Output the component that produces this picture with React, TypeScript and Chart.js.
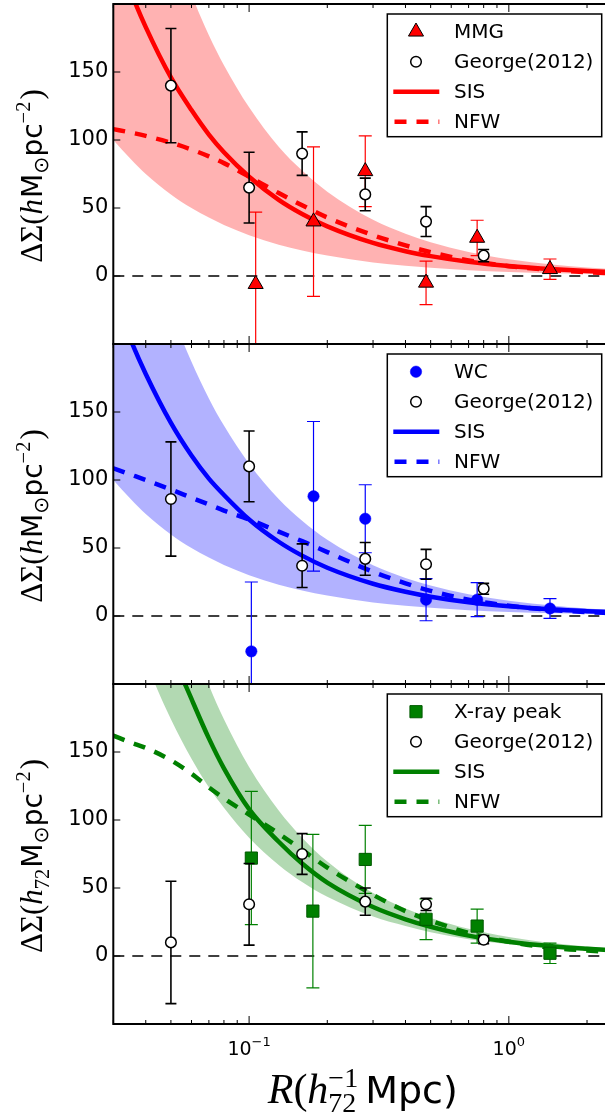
import React, { useEffect, useRef } from 'react';
import { Chart, registerables } from 'chart.js';

Chart.register(...registerables);

// ---------------- data ----------------
const X_MIN = 0.03;
const X_MAX = 2.5;
const Y_MIN = -50;
const Y_MAX = 200;
const Y_TICKS = [0, 50, 100, 150];
const X_MAJOR_TICKS = [0.1, 1];
const X_MAJOR_BASE = ['10', '10'];
const X_MAJOR_EXP = ['\u22121', '0'];
const X_MINOR_TICKS = [0.03, 0.04, 0.05, 0.06, 0.07, 0.08, 0.09, 0.2, 0.3, 0.4, 0.5, 0.6, 0.7, 0.8, 0.9, 2];

// model curves sampled along R
const R_MODEL = [0.03, 0.035, 0.04, 0.05, 0.06, 0.07, 0.08, 0.1, 0.13, 0.16, 0.2, 0.3, 0.4, 0.5, 0.7, 1.0, 1.5, 2.0, 2.5];

const SIS_1 = [243, 209, 183, 146, 122, 104, 91, 73, 56, 45.6, 36.5, 24.3, 18.2, 14.6, 10.4, 7.3, 4.9, 3.65, 2.9];
const NFW_1 = [108, 105.5, 103, 98, 93, 88, 83, 73, 61, 52, 43, 30, 22.5, 17.5, 11.5, 7.2, 4.2, 2.8, 2.0];
const BAND_1_HI = [413, 354, 310, 248, 207, 177, 155, 124, 95, 77.5, 62, 41.3, 31, 24.8, 17.7, 12.4, 8.3, 6.2, 5.0];
const BAND_1_LO = [100, 86, 75, 60, 50, 43, 37.5, 30, 23, 18.8, 15, 10, 7.5, 6, 4.3, 3, 2, 1.5, 1.2];

const SIS_2 = [237, 203, 178, 142, 118, 101, 89, 71, 54.6, 44.4, 35.5, 23.7, 17.8, 14.2, 10.1, 7.1, 4.7, 3.55, 2.85];
const NFW_2 = [108.6, 104, 100, 93, 87, 82, 77.5, 71, 62, 55, 47, 32.5, 24, 18.5, 12, 7.5, 4.3, 2.9, 2.1];
const BAND_2_HI = [373, 320, 280, 224, 187, 160, 140, 112, 86, 70, 56, 37.3, 28, 22.4, 16, 11.2, 7.5, 5.6, 4.5];
const BAND_2_LO = [100, 86, 75, 60, 50, 43, 37.5, 30, 23, 18.8, 15, 10, 7.5, 6, 4.3, 3, 2, 1.5, 1.2];

const SIS_3 = [370, 318, 280, 225, 189, 160, 138, 108, 84, 68, 54, 36, 27, 21.5, 15, 10.5, 7, 5.3, 4.2];
const NFW_3 = [162, 157, 153, 144, 134, 124, 116, 104, 90, 78, 65, 45, 33, 26, 17, 10.5, 5.8, 4.0, 3.0];
const BAND_3_HI = [463, 397, 348, 278, 232, 199, 174, 139, 107, 87, 69.5, 46.3, 35, 28, 20, 14, 9.3, 7, 5.6];
const BAND_3_LO = [290, 249, 217, 174, 145, 124, 109, 87, 67, 54.4, 43.5, 29, 22, 17.4, 12.4, 8.7, 5.8, 4.35, 3.5];

// George (2012) points
const R_GEORGE = [0.05, 0.1, 0.16, 0.28, 0.48, 0.8];
const GEORGE_1 = [140, 65, 90, 60, 40, 15];
const GEORGE_1_ERR = [42, 26, 16, 12, 11, 4.5];
const GEORGE_2 = [86, 110, 37, 42, 38, 20];
const GEORGE_2_ERR = [42, 26, 16, 12, 11, 4];
const GEORGE_3 = [10, 38, 75, 40, 38, 12];
const GEORGE_3_ERR = [45, 30, 15, 10, 4.5, 3];

// cluster centre samples
const R_MMG = [0.106, 0.177, 0.28, 0.48, 0.755, 1.44];
const MMG = [-6, 40, 77, -5, 28, 5];
const MMG_ERR = [53, 55, 26, 16, 13, 7.5];

const R_WC = [0.102, 0.177, 0.28, 0.48, 0.755, 1.44];
const WC = [-26, 88, 71.5, 12, 12, 5.5];
const WC_ERR = [51, 55, 25, 15.5, 12.5, 7.3];

const R_XRAY = [0.102, 0.176, 0.28, 0.48, 0.755, 1.44];
const XRAY = [72, 33, 71, 27, 22, 2];
const XRAY_ERR = [49, 56.5, 25, 15, 12.5, 7.5];

const LEGEND_1 = ['MMG', 'George(2012)', 'SIS', 'NFW'];
const LEGEND_2 = ['WC', 'George(2012)', 'SIS', 'NFW'];
const LEGEND_3 = ['X-ray peak', 'George(2012)', 'SIS', 'NFW'];

// ---------------- layout / style ----------------
const CANVAS_W = 630;
const PLOT_LEFT = 113.3;
const PLOT_RIGHT = 612.2;
const PANEL_TOPS = [4, 344, 684];
const PANEL_H = 340;
const PAD = 6;
const PAGE_H = 1115;

const SANS = '"DejaVu Sans"';
const SERIF = '"Liberation Serif"';

type Panel = {
  color: string;
  band: string;
  marker: 'triangle' | 'circle' | 'rect';
  markerRadius: number;
  markerBorder: string;
  markerBorderWidth: number;
  rSample: number[];
  ySample: number[];
  eSample: number[];
  yGeorge: number[];
  eGeorge: number[];
  sis: number[];
  nfw: number[];
  hi: number[];
  lo: number[];
  legend: string[];
  h72: boolean;
  bottom: boolean;
};

const PANELS: Panel[] = [
  {
    color: '#ff0000', band: 'rgba(255,0,0,0.3)', marker: 'triangle', markerRadius: 8.7,
    markerBorder: '#000', markerBorderWidth: 1,
    rSample: R_MMG, ySample: MMG, eSample: MMG_ERR,
    yGeorge: GEORGE_1, eGeorge: GEORGE_1_ERR,
    sis: SIS_1, nfw: NFW_1, hi: BAND_1_HI, lo: BAND_1_LO,
    legend: LEGEND_1, h72: false, bottom: false,
  },
  {
    color: '#0000ff', band: 'rgba(0,0,255,0.3)', marker: 'circle', markerRadius: 5.7,
    markerBorder: '#0000ff', markerBorderWidth: 0.5,
    rSample: R_WC, ySample: WC, eSample: WC_ERR,
    yGeorge: GEORGE_2, eGeorge: GEORGE_2_ERR,
    sis: SIS_2, nfw: NFW_2, hi: BAND_2_HI, lo: BAND_2_LO,
    legend: LEGEND_2, h72: false, bottom: false,
  },
  {
    color: '#008000', band: 'rgba(0,128,0,0.3)', marker: 'rect', markerRadius: 8.6,
    markerBorder: '#005a00', markerBorderWidth: 1,
    rSample: R_XRAY, ySample: XRAY, eSample: XRAY_ERR,
    yGeorge: GEORGE_3, eGeorge: GEORGE_3_ERR,
    sis: SIS_3, nfw: NFW_3, hi: BAND_3_HI, lo: BAND_3_LO,
    legend: LEGEND_3, h72: true, bottom: true,
  },
];

type Seg = { t: string; f: string; dy?: number; noAdv?: boolean; dx?: number };

function drawRich(ctx: CanvasRenderingContext2D, segs: Seg[], x: number, y: number) {
  const widths = segs.map((s) => {
    ctx.font = s.f;
    return ctx.measureText(s.t).width;
  });
  let total = 0;
  segs.forEach((s, i) => {
    total += (s.dx || 0) + (s.noAdv ? 0 : widths[i]);
  });
  let cx = x - total / 2;
  ctx.textAlign = 'left';
  ctx.textBaseline = 'alphabetic';
  segs.forEach((s, i) => {
    cx += s.dx || 0;
    ctx.font = s.f;
    ctx.fillText(s.t, cx, y + (s.dy || 0));
    if (!s.noAdv) cx += widths[i];
  });
}

function drawMarker(
  ctx: CanvasRenderingContext2D, style: string, x: number, y: number, r: number,
  fill: string, stroke: string, lw: number,
) {
  ctx.beginPath();
  if (style === 'triangle') {
    const a = (2 * Math.PI) / 3;
    ctx.moveTo(x, y - r);
    ctx.lineTo(x + r * Math.sin(a), y - r * Math.cos(a));
    ctx.lineTo(x - r * Math.sin(a), y - r * Math.cos(a));
    ctx.closePath();
  } else if (style === 'rect') {
    const s = r * Math.SQRT1_2;
    ctx.rect(x - s, y - s, 2 * s, 2 * s);
  } else {
    ctx.arc(x, y, r, 0, Math.PI * 2);
  }
  ctx.fillStyle = fill;
  ctx.fill();
  if (lw > 0) {
    ctx.lineWidth = lw;
    ctx.strokeStyle = stroke;
    ctx.stroke();
  }
}

function makePlugin(p: Panel, idx: number) {
  return {
    id: 'decor' + idx,
    beforeDatasetDraw(chart: any, args: any) {
      const ds = chart.data.datasets[args.index];
      if (!ds.errors) return;
      const xs = chart.scales.x;
      const ys = chart.scales.y;
      const ca = chart.chartArea;
      const ctx: CanvasRenderingContext2D = chart.ctx;
      ctx.save();
      ctx.beginPath();
      ctx.rect(ca.left, ca.top, ca.right - ca.left, ca.bottom - ca.top);
      ctx.clip();
      ctx.strokeStyle = ds.errColor;
      ctx.lineWidth = ds.errWidth;
      ds.data.forEach((pt: any, i: number) => {
        const px = xs.getPixelForValue(pt.x);
        const yTop = ys.getPixelForValue(pt.y + ds.errors[i]);
        const yBot = ys.getPixelForValue(pt.y - ds.errors[i]);
        const c = ds.errCap;
        ctx.beginPath();
        ctx.moveTo(px, yBot);
        ctx.lineTo(px, yTop);
        ctx.moveTo(px - c, yTop);
        ctx.lineTo(px + c, yTop);
        ctx.moveTo(px - c, yBot);
        ctx.lineTo(px + c, yBot);
        ctx.stroke();
      });
      ctx.restore();
    },
    afterDatasetsDraw(chart: any) {
      const ctx: CanvasRenderingContext2D = chart.ctx;
      const ca = chart.chartArea;
      const xs = chart.scales.x;
      const ys = chart.scales.y;
      ctx.save();
      // inward ticks
      ctx.strokeStyle = '#000';
      ctx.lineWidth = 1;
      ctx.beginPath();
      X_MAJOR_TICKS.forEach((v) => {
        const px = xs.getPixelForValue(v);
        ctx.moveTo(px, ca.top); ctx.lineTo(px, ca.top + 8);
        ctx.moveTo(px, ca.bottom); ctx.lineTo(px, ca.bottom - 8);
      });
      X_MINOR_TICKS.forEach((v) => {
        const px = xs.getPixelForValue(v);
        ctx.moveTo(px, ca.top); ctx.lineTo(px, ca.top + 4);
        ctx.moveTo(px, ca.bottom); ctx.lineTo(px, ca.bottom - 4);
      });
      Y_TICKS.forEach((v) => {
        const py = ys.getPixelForValue(v);
        ctx.moveTo(ca.left, py); ctx.lineTo(ca.left + 7, py);
        ctx.moveTo(ca.right, py); ctx.lineTo(ca.right - 7, py);
      });
      ctx.stroke();
      // frame
      ctx.lineWidth = 2;
      ctx.strokeRect(ca.left, ca.top, ca.right - ca.left, ca.bottom - ca.top);

      // legend
      const lx0 = 387.3, lx1 = 601.7;
      const ly0 = ca.top + 10, ly1 = ca.top + 132.7;
      ctx.fillStyle = '#fff';
      ctx.fillRect(lx0, ly0, lx1 - lx0, ly1 - ly0);
      ctx.lineWidth = 1.5;
      ctx.strokeStyle = '#000';
      ctx.strokeRect(lx0, ly0, lx1 - lx0, ly1 - ly0);
      const rows = [27.7, 57.7, 87.7, 117.7].map((d) => ca.top + d);
      drawMarker(ctx, p.marker, 416, rows[0], p.markerRadius, p.color, p.markerBorder, p.markerBorderWidth);
      drawMarker(ctx, 'circle', 416, rows[1], 5.3, '#fff', '#000', 1.5);
      ctx.lineCap = 'butt';
      ctx.strokeStyle = p.color;
      ctx.lineWidth = 4.5;
      ctx.beginPath();
      ctx.moveTo(393.3, rows[2]); ctx.lineTo(439.3, rows[2]);
      ctx.stroke();
      ctx.setLineDash([12, 10]);
      ctx.beginPath();
      ctx.moveTo(394.5, rows[3]); ctx.lineTo(439.3, rows[3]);
      ctx.stroke();
      ctx.setLineDash([]);
      ctx.fillStyle = '#000';
      ctx.font = `20px ${SANS}`;
      ctx.textAlign = 'left';
      ctx.textBaseline = 'middle';
      p.legend.forEach((t, i) => ctx.fillText(t, 454, rows[i] + 1));

      // y title
      const big = 31, sans = 28, small = 20.5;
      const segs: Seg[] = [
        { t: '\u0394\u03A3(', f: `${big}px ${SERIF}` },
        { t: 'h', f: `italic ${big}px ${SERIF}` },
      ];
      if (p.h72) segs.push({ t: '72', f: `${small}px ${SERIF}`, dy: 7 });
      segs.push(
        { t: 'M', f: `${sans}px ${SANS}`, dx: 1 },
        { t: '\u2299', f: `${small}px ${SANS}`, dy: 6 },
        { t: 'pc', f: `${sans}px ${SANS}` },
        { t: '\u22122', f: `${small}px ${SERIF}`, dy: -12 },
        { t: ')', f: `${big}px ${SERIF}`, dx: 2 },
      );
      ctx.save();
      ctx.translate(41.7, (ca.top + ca.bottom) / 2 + 2);
      ctx.rotate(-Math.PI / 2);
      ctx.fillStyle = '#000';
      drawRich(ctx, segs, 0, 0);
      ctx.restore();

      if (p.bottom) {
        // x tick labels
        X_MAJOR_TICKS.forEach((v, i) => {
          const px = xs.getPixelForValue(v);
          drawRich(ctx, [
            { t: X_MAJOR_BASE[i], f: `19px ${SANS}` },
            { t: X_MAJOR_EXP[i], f: `13px ${SANS}`, dy: -9 },
          ], px, ca.bottom + 31);
        });
        // x title
        const xb = 42, xs2 = 38, xsm = 28;
        drawRich(ctx, [
          { t: 'R', f: `italic ${xb}px ${SERIF}` },
          { t: '(', f: `${xb}px ${SERIF}` },
          { t: 'h', f: `italic ${xb}px ${SERIF}` },
          { t: '72', f: `${xsm}px ${SERIF}`, dy: 9, noAdv: true },
          { t: '\u22121', f: `${xsm}px ${SERIF}`, dy: -16 },
          { t: 'Mpc)', f: `${xs2}px ${SANS}`, dx: 7 },
        ], (ca.left + ca.right) / 2, ca.bottom + 79);
      }
      ctx.restore();
    },
  };
}

function buildConfig(p: Panel, idx: number, canvasH: number): any {
  const pts = (xs: number[], ys: number[]) => xs.map((x, i) => ({ x, y: ys[i] }));
  const curveBase = {
    pointRadius: 0,
    cubicInterpolationMode: 'monotone',
    clip: 0,
    fill: false,
  };
  return {
    type: 'line',
    data: {
      datasets: [
        {
          label: 'George(2012)',
          data: pts(R_GEORGE, p.yGeorge),
          showLine: false,
          pointStyle: 'circle',
          pointRadius: 5.3,
          pointBackgroundColor: '#fff',
          pointBorderColor: '#000',
          pointBorderWidth: 1.5,
          errors: p.eGeorge,
          errColor: '#000',
          errWidth: 1.6,
          errCap: 5.5,
          clip: 0,
        },
        {
          label: p.legend[0],
          data: pts(p.rSample, p.ySample),
          showLine: false,
          pointStyle: p.marker,
          pointRadius: p.markerRadius,
          pointBackgroundColor: p.color,
          pointBorderColor: p.markerBorder,
          pointBorderWidth: p.markerBorderWidth,
          errors: p.eSample,
          errColor: p.color,
          errWidth: 1.2,
          errCap: 6.5,
          clip: 0,
        },
        { ...curveBase, label: 'SIS', data: pts(R_MODEL, p.sis), borderColor: p.color, borderWidth: 4.5 },
        { ...curveBase, label: 'NFW', data: pts(R_MODEL, p.nfw), borderColor: p.color, borderWidth: 4.5, borderDash: [12, 10] },
        {
          label: 'zero', data: [{ x: X_MIN, y: 0 }, { x: X_MAX, y: 0 }], pointRadius: 0,
          borderColor: '#000', borderWidth: 1.5, borderDash: [11, 8], clip: 0, fill: false,
        },
        { ...curveBase, label: 'band hi', data: pts(R_MODEL, p.hi), borderWidth: 0, borderColor: 'rgba(0,0,0,0)', backgroundColor: p.band, fill: '+1' },
        { ...curveBase, label: 'band lo', data: pts(R_MODEL, p.lo), borderWidth: 0, borderColor: 'rgba(0,0,0,0)' },
      ],
    },
    options: {
      responsive: false,
      animation: false,
      events: [],
      layout: {
        autoPadding: false,
        padding: { left: 0, top: PAD, right: CANVAS_W - PLOT_RIGHT, bottom: canvasH - PAD - PANEL_H },
      },
      elements: { line: { capBezierPoints: false, tension: 0 } },
      plugins: { legend: { display: false }, tooltip: { enabled: false } },
      scales: {
        x: { type: 'logarithmic', min: X_MIN, max: X_MAX, display: false },
        y: {
          type: 'linear', min: Y_MIN, max: Y_MAX,
          grid: { display: false, drawTicks: false },
          border: { display: false },
          ticks: { padding: 5, color: '#000', font: { family: 'DejaVu Sans', size: 21 } },
          afterBuildTicks: (s: any) => { s.ticks = Y_TICKS.map((v) => ({ value: v })); },
          afterFit: (s: any) => { s.width = PLOT_LEFT; s.paddingTop = 0; s.paddingBottom = 0; },
        },
      },
    },
    plugins: [makePlugin(p, idx)],
  };
}

const CANVAS_TOPS = PANEL_TOPS.map((t) => t - PAD);
const CANVAS_HS = PANEL_TOPS.map((t, i) => (i < 2 ? PANEL_H + 2 * PAD : PAGE_H - (t - PAD)));

export default function App() {
  const r0 = useRef<HTMLCanvasElement>(null);
  const r1 = useRef<HTMLCanvasElement>(null);
  const r2 = useRef<HTMLCanvasElement>(null);
  const refs = [r0, r1, r2];
  useEffect(() => {
    const charts = PANELS.map((p, i) => new Chart(refs[i].current as HTMLCanvasElement, buildConfig(p, i, CANVAS_HS[i])));
    return () => charts.forEach((c) => c.destroy());
  }, []);
  return (
    <div style={{ position: 'absolute', left: 0, top: 0, width: 605, height: PAGE_H, overflow: 'hidden', background: '#fff' }}>
      {PANELS.map((p, i) => (
        <canvas
          key={i}
          ref={refs[i]}
          width={CANVAS_W}
          height={CANVAS_HS[i]}
          style={{ position: 'absolute', left: 0, top: CANVAS_TOPS[i], display: 'block' }}
        />
      ))}
    </div>
  );
}
